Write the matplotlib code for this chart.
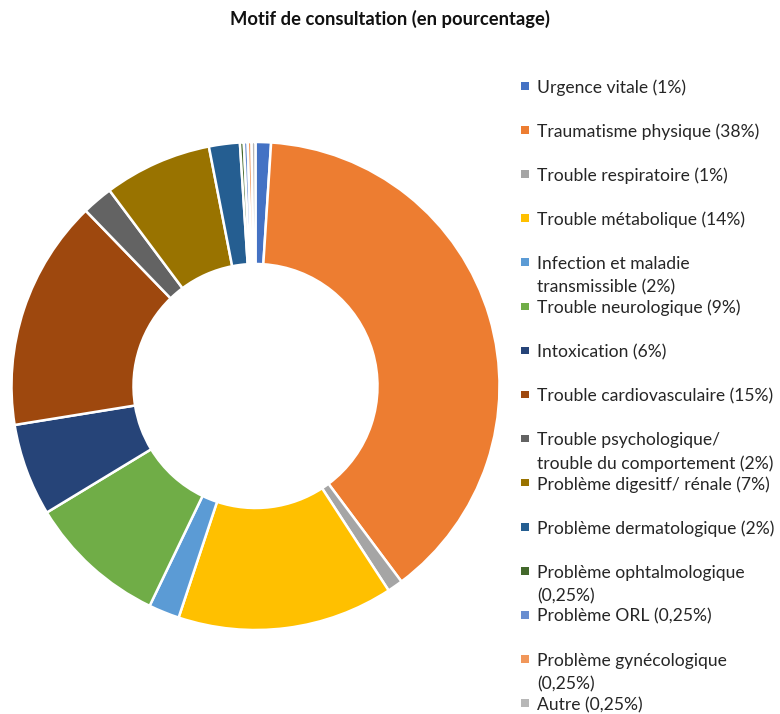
import matplotlib
matplotlib.use("Agg")
import matplotlib.pyplot as plt
from matplotlib.patches import Rectangle

# Reasons for consultation, percentages as reported
categories = [
    "Urgence vitale",
    "Traumatisme physique",
    "Trouble respiratoire",
    "Trouble métabolique",
    "Infection et maladie\ntransmissible",
    "Trouble neurologique",
    "Intoxication",
    "Trouble cardiovasculaire",
    "Trouble psychologique/\ntrouble du comportement",
    "Problème digesitf/ rénale",
    "Problème dermatologique",
    "Problème ophtalmologique\n",
    "Problème ORL",
    "Problème gynécologique\n",
    "Autre",
]
values = [1, 38, 1, 14, 2, 9, 6, 15, 2, 7, 2, 0.25, 0.25, 0.25, 0.25]
colors = [
    "#4472C4", "#ED7D31", "#A5A5A5", "#FFC000", "#5B9BD5",
    "#70AD47", "#264478", "#9E480E", "#636363", "#997300",
    "#255E91", "#43682B", "#698ED0", "#F1975A", "#B7B7B7",
]
title = "Motif de consultation (en pourcentage)"

FONT = "Lato"
W, H = 780, 714
fig = plt.figure(figsize=(W / 100, H / 100), dpi=100)

# donut
cx, cy, r = 255.5, 386, 244
ax = fig.add_axes([(cx - r) / W, (H - cy - r) / H, 2 * r / W, 2 * r / H])
ax.pie(values, colors=colors, startangle=90, counterclock=False,
       radius=1.0, wedgeprops=dict(width=0.5, edgecolor="white", linewidth=1.8))
ax.set_xlim(-1, 1)
ax.set_ylim(-1, 1)
ax.set_aspect("equal")
ax.axis("off")

fig.text(0.5, 1 - 19 / H, title, ha="center", va="center",
         fontsize=13.2, fontweight="bold", family=FONT, color="#111111")


def fmt(v):
    s = f"{v:g}".replace(".", ",")
    return f"({s}%)"


# legend drawn entry by entry: fixed slot per entry, wrapped lines overflow
y0, step, line_gap = 86, 44.1, 23.5
for i, (name, v, c) in enumerate(zip(categories, values, colors)):
    y = y0 + i * step
    fig.patches.append(Rectangle((521 / W, 1 - (y + 3.5) / H), 7.5 / W, 7.5 / H,
                                 transform=fig.transFigure, facecolor=c,
                                 edgecolor="none"))
    lines = name.split("\n")
    if lines[-1] == "":
        lines[-1] = fmt(v)
    else:
        lines[-1] = lines[-1] + " " + fmt(v)
    for k, line in enumerate(lines):
        fig.text(537 / W, 1 - (y + k * line_gap) / H, line, ha="left",
                 va="center_baseline", fontsize=12.6, family=FONT,
                 color="#262626")

fig.savefig("out.png", dpi=100, facecolor="white")
